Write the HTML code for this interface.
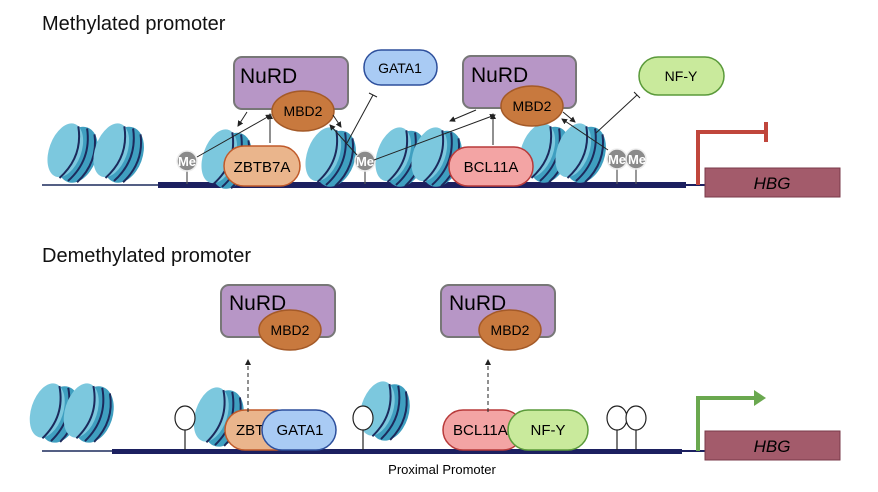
<!DOCTYPE html>
<html><head><meta charset="utf-8"><style>
html,body{margin:0;padding:0;background:#fff;}
svg{display:block;font-family:"Liberation Sans",Arial,sans-serif;}
</style></head><body>
<svg width="878" height="492" viewBox="0 0 878 492" xmlns="http://www.w3.org/2000/svg">
<defs>
<g id="nuc">
  <ellipse cx="8" cy="0" rx="19" ry="29" fill="#3f9fc0"/>
  <ellipse cx="-5" cy="0" rx="16" ry="28" fill="#7cc8de"/>
  <path d="M-1,-27 Q14,0 -1,28" fill="none" stroke="#1c2a5c" stroke-width="2"/>
  <path d="M8,-28 Q23,0 8,28" fill="none" stroke="#1c2a5c" stroke-width="2"/>
  <path d="M17,-25 Q30,0 17,26" fill="none" stroke="#1c2a5c" stroke-width="2"/>
</g>
<marker id="ah" markerWidth="6" markerHeight="6" refX="5" refY="3" orient="auto"><path d="M0,0 L6,3 L0,6 z" fill="#222"/></marker>
</defs>

<!-- TOP -->
<text x="42" y="30" font-size="20" fill="#111">Methylated promoter</text>
<line x1="42" y1="185" x2="160" y2="185" stroke="#1c2a5c" stroke-width="1.5"/>
<rect x="158" y="182" width="528" height="6" fill="#1c2060"/>
<line x1="686" y1="185" x2="706" y2="185" stroke="#1c2060" stroke-width="2"/>

<use href="#nuc" transform="translate(70,152) rotate(20)"/>
<use href="#nuc" transform="translate(116,152) rotate(20)"/>
<use href="#nuc" transform="translate(224,158) rotate(20)"/>
<use href="#nuc" transform="translate(328,156) rotate(20)"/>
<use href="#nuc" transform="translate(398,156) rotate(20)"/>
<use href="#nuc" transform="translate(434,156) rotate(20)"/>
<use href="#nuc" transform="translate(542,152) rotate(20)"/>
<use href="#nuc" transform="translate(578,152) rotate(20)"/>

<g stroke="#555" stroke-width="1.2">
<line x1="187" y1="170" x2="187" y2="184"/><line x1="365" y1="170" x2="365" y2="184"/>
<line x1="617" y1="168" x2="617" y2="184"/><line x1="636" y1="168" x2="636" y2="184"/>
</g>
<g fill="#8a8a8a" stroke="#eee" stroke-width="1.5">
<circle cx="187" cy="161" r="10"/><circle cx="365" cy="161" r="10"/>
<circle cx="617" cy="159" r="10"/><circle cx="636" cy="159" r="10"/>
</g>
<g fill="#fff" font-size="13" font-weight="bold" text-anchor="middle">
<text x="187" y="166">Me</text><text x="365" y="166">Me</text>
<text x="617" y="164">Me</text><text x="637" y="164">Me</text>
</g>

<rect x="224" y="146" width="76" height="40" rx="20" fill="#eab58c" stroke="#c05a2a" stroke-width="1.5"/>
<text x="262" y="172" font-size="15" text-anchor="middle">ZBTB7A</text>
<rect x="449" y="147" width="84" height="39" rx="19" fill="#f3a4a4" stroke="#b83a3a" stroke-width="1.5"/>
<text x="491" y="172" font-size="15" text-anchor="middle">BCL11A</text>

<rect x="234" y="57" width="114" height="52" rx="8" fill="#b796c6" stroke="#777" stroke-width="2"/>
<text x="240" y="83" font-size="21">NuRD</text>
<ellipse cx="303" cy="111" rx="31" ry="20" fill="#c8793e" stroke="#a45a28" stroke-width="1.5"/>
<text x="303" y="116" font-size="14" text-anchor="middle">MBD2</text>
<rect x="463" y="56" width="113" height="52" rx="8" fill="#b796c6" stroke="#777" stroke-width="2"/>
<text x="471" y="82" font-size="21">NuRD</text>
<ellipse cx="532" cy="106" rx="31" ry="20" fill="#c8793e" stroke="#a45a28" stroke-width="1.5"/>
<text x="532" y="111" font-size="14" text-anchor="middle">MBD2</text>

<rect x="364" y="50" width="73" height="35" rx="17" fill="#a9cbf4" stroke="#2d4f9c" stroke-width="1.5"/>
<text x="400" y="73" font-size="14" text-anchor="middle">GATA1</text>
<rect x="639" y="57" width="85" height="38" rx="19" fill="#c9ea9c" stroke="#5a9a3a" stroke-width="1.5"/>
<text x="681" y="81" font-size="14" text-anchor="middle">NF-Y</text>

<g stroke="#222" stroke-width="1" fill="none">
<line x1="247" y1="112" x2="238" y2="126" marker-end="url(#ah)"/>
<line x1="197" y1="157" x2="271" y2="115" marker-end="url(#ah)"/>
<line x1="270" y1="143" x2="270" y2="114" marker-end="url(#ah)"/>
<line x1="333" y1="115" x2="341" y2="127" marker-end="url(#ah)"/>
<line x1="357" y1="155" x2="330" y2="125" marker-end="url(#ah)"/>
<line x1="347" y1="143" x2="373" y2="95"/><line x1="369" y1="93" x2="377" y2="97"/>
<line x1="476" y1="110" x2="450" y2="121" marker-end="url(#ah)"/>
<line x1="374" y1="160" x2="495" y2="115" marker-end="url(#ah)"/>
<line x1="493" y1="145" x2="493" y2="114" marker-end="url(#ah)"/>
<line x1="563" y1="112" x2="575" y2="122" marker-end="url(#ah)"/>
<line x1="608" y1="150" x2="562" y2="119" marker-end="url(#ah)"/>
<line x1="596" y1="133" x2="637" y2="95"/><line x1="634" y1="92" x2="640" y2="98"/>
</g>

<path d="M698,185 V132 H766" stroke="#c0463c" stroke-width="4" fill="none"/>
<line x1="766" y1="122" x2="766" y2="142" stroke="#c0463c" stroke-width="4"/>
<rect x="705" y="168" width="135" height="29" fill="#a35b6b" stroke="#7a3a4a" stroke-width="1"/>
<text x="772" y="189" font-size="17" font-style="italic" text-anchor="middle">HBG</text>

<!-- BOTTOM -->
<text x="42" y="262" font-size="20" fill="#111">Demethylated promoter</text>
<line x1="42" y1="451" x2="112" y2="451" stroke="#1c2a5c" stroke-width="1.5"/>
<rect x="112" y="449" width="570" height="5" fill="#1c2060"/>
<line x1="682" y1="451" x2="706" y2="451" stroke="#1c2060" stroke-width="2"/>

<use href="#nuc" transform="translate(52,412) rotate(18)"/>
<use href="#nuc" transform="translate(86,412) rotate(18)"/>
<use href="#nuc" transform="translate(216,416) rotate(18)"/>
<use href="#nuc" transform="translate(382,410) rotate(18)"/>

<g stroke="#222" stroke-width="1.2" fill="#fff">
<line x1="185" y1="428" x2="185" y2="450"/>
<line x1="363" y1="428" x2="363" y2="450"/>
<line x1="617" y1="428" x2="617" y2="450"/>
<line x1="636" y1="428" x2="636" y2="450"/>
<ellipse cx="185" cy="418" rx="10" ry="12"/>
<ellipse cx="363" cy="418" rx="10" ry="12"/>
<ellipse cx="617" cy="418" rx="10" ry="12"/>
<ellipse cx="636" cy="418" rx="10" ry="12"/>
</g>

<rect x="225" y="410" width="72" height="40" rx="20" fill="#eab58c" stroke="#c05a2a" stroke-width="1.5"/>
<text x="236" y="435" font-size="15">ZBT</text>
<rect x="262" y="410" width="74" height="40" rx="20" fill="#a9cbf4" stroke="#2d4f9c" stroke-width="1.5"/>
<text x="300" y="435" font-size="15" text-anchor="middle">GATA1</text>
<rect x="443" y="410" width="80" height="40" rx="20" fill="#f3a4a4" stroke="#b83a3a" stroke-width="1.5"/>
<text x="453" y="435" font-size="15">BCL11A</text>
<rect x="508" y="410" width="80" height="40" rx="20" fill="#c9ea9c" stroke="#5a9a3a" stroke-width="1.5"/>
<text x="548" y="435" font-size="15" text-anchor="middle">NF-Y</text>

<rect x="221" y="285" width="114" height="52" rx="8" fill="#b796c6" stroke="#777" stroke-width="2"/>
<text x="229" y="310" font-size="21">NuRD</text>
<ellipse cx="290" cy="330" rx="31" ry="20" fill="#c8793e" stroke="#a45a28" stroke-width="1.5"/>
<text x="290" y="335" font-size="14" text-anchor="middle">MBD2</text>
<rect x="441" y="285" width="114" height="52" rx="8" fill="#b796c6" stroke="#777" stroke-width="2"/>
<text x="449" y="310" font-size="21">NuRD</text>
<ellipse cx="510" cy="330" rx="31" ry="20" fill="#c8793e" stroke="#a45a28" stroke-width="1.5"/>
<text x="510" y="335" font-size="14" text-anchor="middle">MBD2</text>

<g stroke="#222" stroke-width="1" stroke-dasharray="4,3">
<line x1="248" y1="412" x2="248" y2="360" marker-end="url(#ah)"/>
<line x1="488" y1="412" x2="488" y2="360" marker-end="url(#ah)"/>
</g>

<path d="M698,451 V398 H756" stroke="#6aa84f" stroke-width="4" fill="none"/>
<path d="M754,390 L766,398 L754,406 z" fill="#6aa84f"/>
<rect x="705" y="431" width="135" height="29" fill="#a35b6b" stroke="#7a3a4a" stroke-width="1"/>
<text x="772" y="452" font-size="17" font-style="italic" text-anchor="middle">HBG</text>
<text x="442" y="474" font-size="13" text-anchor="middle">Proximal Promoter</text>
</svg>
</body></html>
